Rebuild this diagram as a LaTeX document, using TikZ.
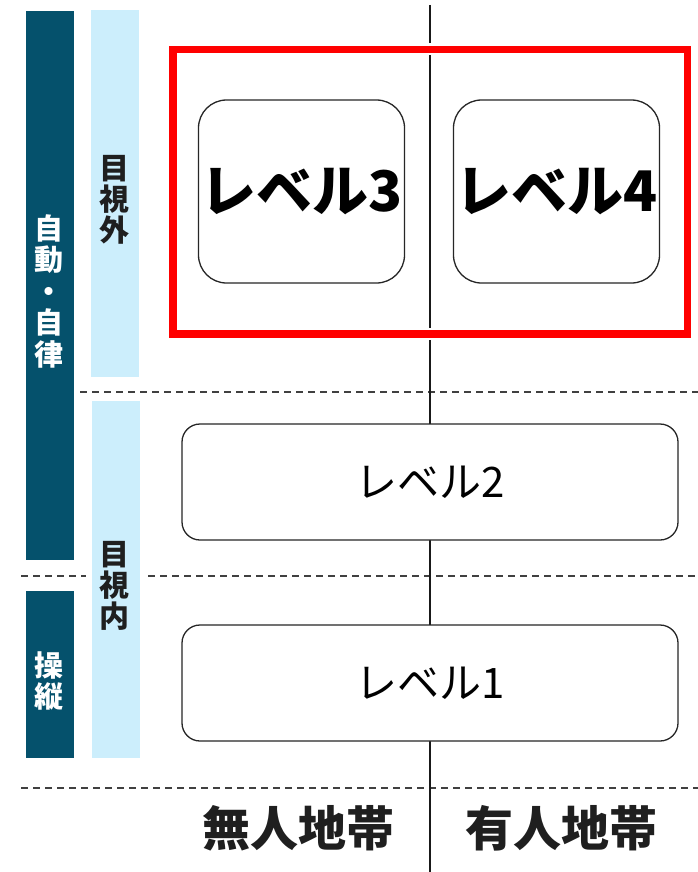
\documentclass[tikz,border=0pt]{standalone}
\usepackage{fontspec}
\newfontfamily\jp{Noto Sans CJK JP}
\definecolor{darkbar}{RGB}{5,81,108}
\definecolor{lightbar}{RGB}{204,238,252}
\definecolor{dashgrey}{RGB}{64,64,64}
\definecolor{redframe}{RGB}{255,0,0}
\begin{document}
\begin{tikzpicture}[x=1pt,y=-1pt,
  darkcol/.style={fill=darkbar,draw=none},
  lightcol/.style={fill=lightbar,draw=none},
  sep/.style={draw=dashgrey,line width=1.5pt,dash pattern=on 7pt off 5pt},
  midline/.style={draw=black!90,line width=1.6pt},
  bigbox/.style={draw=black!85,line width=1.3pt,fill=white,rounded corners=28pt,inner sep=0pt,
     minimum width=206pt,minimum height=183pt,font=\jp\bfseries\fontsize{56}{60}\selectfont},
  widebox/.style={draw=black!85,line width=1.3pt,fill=white,rounded corners=18pt,inner sep=0pt,
     minimum width=496pt,minimum height=116pt,font=\jp\fontsize{42}{46}\selectfont},
  vlabw/.style={align=center,text=white,font=\jp\bfseries\fontsize{29}{31.5}\selectfont,inner sep=0pt},
  vlabk/.style={align=center,text=black!88,font=\jp\bfseries\fontsize{30}{31}\selectfont,inner sep=0pt},
  zone/.style={text=black!88,font=\jp\bfseries\fontsize{48}{52}\selectfont,inner sep=0pt}
]
\useasboundingbox (0,0) rectangle (698,872);
\fill[white] (0,0) rectangle (698,872);
% side columns
\path[darkcol] (26,11) rectangle (74,560);
\path[darkcol] (26,591) rectangle (74,758);
% dashed separators
\draw[sep] (80,392) -- (698,392);
\draw[sep] (21,576) -- (86,576);
\draw[sep] (148,576) -- (698,576);
\draw[sep] (21,788) -- (698,788);
% light columns
\path[lightcol] (91,10) rectangle (139,377);
\path[lightcol] (92,401) rectangle (140,758);
% vertical middle line
\coordinate (vtop) at (430,5);
\coordinate (vbot) at (430,872);
\draw[midline] (vtop) -- (vbot);
% red frame
\draw[white,line width=12pt] (173,49.5) rectangle (687.5,334);
\draw[redframe,line width=7.5pt] (173,49.5) rectangle (687.5,334);
% level boxes
\node[bigbox] (l3) at (301.5,191.5) {レベル3};
\node[bigbox] (l4) at (556.5,191.5) {レベル4};
\node[widebox] (l2) at (430,482) {レベル2};
\node[widebox] (l1) at (430,683) {レベル1};
% column labels
\node[vlabw] (auto) at (49,291) {自\\動\\・\\自\\律};
\node[vlabw] (manual) at (49,681) {操\\縦};
\node[vlabk] (bvlos) at (114,200) {目\\視\\外};
\node[vlabk] (vlos) at (114,586) {目\\視\\内};
% zone labels
\node[zone] (unm) at (298,828) {無人地帯};
\node[zone] (man) at (561,828) {有人地帯};
\end{tikzpicture}
\end{document}
